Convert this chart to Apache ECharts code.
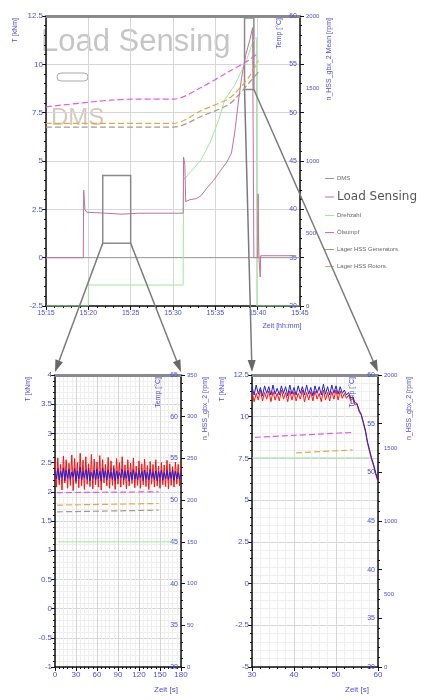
<!DOCTYPE html>
<html>
<head>
<meta charset="utf-8">
<script src="https://cdn.jsdelivr.net/npm/echarts@6/dist/echarts.min.js"></script>
<style>
  html, body { margin: 0; padding: 0; background: #fff; }
  #chart { width: 422px; height: 700px; }
</style>
</head>
<body>
<div id="chart"></div>
<script>
// top overview, x in minutes after 15:00
const dmsTop = [[15, 0], [45, 0]]
const loadTop = [[15, 0], [19.4, 0], [19.45, 3.5], [19.6, 2.5], [19.8, 2.35], [22, 2.3], [24, 2.25], [26, 2.3],
  [31.2, 2.3], [31.25, 5.2], [31.4, 4.8], [31.5, 2.9], [32, 3.0], [32.7, 3.05], [33.3, 3.2], [34, 3.6],
  [34.8, 4.0], [35.6, 4.5], [36.3, 4.9], [36.9, 5.4], [37.3, 6.5], [37.7, 8.0], [38.1, 9.3], [38.6, 10.5],
  [39.1, 11.3], [39.4, 11.9], [39.55, 0], [40.0, 0], [40.05, 3.3], [40.1, 1.2], [40.15, 0], [40.3, -1.0],
  [40.35, 0.1], [44.3, 0.1]]
const drehzahlTop = [[15, 0], [20, 0], [20.02, 145], [31.2, 145], [31.25, 870], [32.3, 940], [33.3, 1007],
  [34.4, 1130], [35.4, 1283], [36.1, 1421], [37.3, 1525], [38.7, 1697], [39.5, 1835], [39.85, 1850], [39.9, 0], [45, 0]]
const oelTop = [[15, 50.6], [22.6, 51.3], [25.4, 51.4], [30.1, 51.4], [33.3, 52.6], [36.5, 54.2], [38.9, 55.4], [40.1, 56.2]]
const rotTop = [[15, 48.9], [30.1, 48.9], [33.3, 50.2], [36.5, 51.4], [37.3, 52.0], [38.9, 53.6], [40.1, 55.4]]
const genTop = [[15, 48.5], [30.1, 48.5], [33.3, 49.6], [36.5, 50.8], [37.3, 51.4], [38.9, 53.0], [40.1, 54.2]]

// zoom boxes in the overview [t0, t1, T0, T1]
const boxLeft = [21.7, 25.0, 0.75, 4.25]
const boxRight = [38.45, 39.55, 8.7, 12.4]

// lower left detail, samples every 2 s from 0 s
const llStart = 0
const llStep = 2
const redLL = [2.52, 2.08, 2.58, 2.12, 2.47, 2.03, 2.61, 2.15, 2.55, 2.06, 2.49, 2.11, 2.63, 2.02, 2.57, 2.14,
  2.5, 2.07, 2.66, 2.1, 2.54, 2.04, 2.6, 2.13, 2.48, 2.09, 2.64, 2.05, 2.56, 2.12, 2.51, 2.08, 2.62, 2.03,
  2.55, 2.15, 2.47, 2.1, 2.59, 2.06, 2.53, 2.11, 2.45, 2.04, 2.57, 2.13, 2.5, 2.08, 2.6, 2.12, 2.46, 2.05,
  2.55, 2.1, 2.49, 2.14, 2.58, 2.07, 2.44, 2.11, 2.53, 2.06, 2.48, 2.12, 2.56, 2.09, 2.45, 2.04, 2.52, 2.13,
  2.47, 2.08, 2.55, 2.1, 2.44, 2.06, 2.5, 2.12, 2.46, 2.09, 2.54, 2.05, 2.48, 2.11, 2.43, 2.08, 2.51, 2.13,
  2.47, 2.1, 2.52]
const blueLL = [2.36, 2.22, 2.4, 2.2, 2.35, 2.24, 2.41, 2.19, 2.37, 2.23, 2.39, 2.21, 2.34, 2.25, 2.4, 2.18,
  2.36, 2.22, 2.42, 2.2, 2.35, 2.24, 2.38, 2.21, 2.4, 2.19, 2.33, 2.23, 2.37, 2.2, 2.39, 2.22, 2.35, 2.18,
  2.41, 2.24, 2.36, 2.2, 2.38, 2.23, 2.34, 2.21, 2.4, 2.19, 2.36, 2.22, 2.33, 2.24, 2.39, 2.2, 2.35, 2.23,
  2.37, 2.18, 2.34, 2.21, 2.38, 2.22, 2.33, 2.2, 2.36, 2.24, 2.35, 2.19, 2.37, 2.22, 2.34, 2.2, 2.38, 2.23,
  2.33, 2.21, 2.36, 2.19, 2.35, 2.24, 2.37, 2.2, 2.33, 2.22, 2.36, 2.21, 2.34, 2.23, 2.38, 2.2, 2.35, 2.22,
  2.33, 2.21, 2.36]
const oelLL = [[3, 50.9], [148, 51.0]]
const rotLL = [[3, 49.4], [148, 49.6]]
const genLL = [[3, 48.6], [148, 48.8]]
const drehzahlLL = [[4, 150], [170, 150]]

// lower right detail, samples every 0.5 s from 30 s
const lrStart = 30
const lrStep = 0.5
const redLR = [11.5, 10.9, 11.4, 11.0, 11.6, 10.95, 11.45, 11.05, 11.55, 10.9, 11.5, 11.0, 11.4, 10.95, 11.6,
  11.05, 11.45, 10.9, 11.55, 11.0, 11.5, 10.95, 11.4, 11.05, 11.6, 10.9, 11.45, 11.0, 11.5, 10.95, 11.55,
  11.05, 11.4, 10.9, 11.6, 11.0, 11.45, 10.95, 11.5, 11.05, 11.6, 11.0, 11.55, 11.1,
  11.4, 11.1, 11.3, 10.95, 11.1, 10.7, 10.75, 10.3, 10.1, 9.6, 9.1, 8.4, 7.9, 7.4, 7.0, 6.5, 6.1]
const blueLR = [11.8, 11.3, 11.9, 11.35, 11.75, 11.25, 11.85, 11.4, 11.8, 11.3, 11.9, 11.35, 11.7, 11.3, 11.85,
  11.4, 11.8, 11.25, 11.9, 11.35, 11.75, 11.3, 11.85, 11.4, 11.8, 11.3, 11.9, 11.35, 11.75, 11.25, 11.85,
  11.4, 11.8, 11.3, 11.95, 11.35, 11.8, 11.3, 11.9, 11.4, 11.85, 11.35, 11.8, 11.4,
  11.6, 11.3, 11.45, 11.1, 11.2, 10.85, 10.8, 10.4, 10.15, 9.7, 9.2, 8.5, 8.0, 7.5, 7.1, 6.6, 6.2]
const oelLR = [[30.7, 53.6], [54, 54.1]]
const rotLR = [[40.5, 52.0], [54, 52.3]]
const drehzahlLR = [[30, 1432], [58, 1432]]

const legendNames = ['DMS', 'Load Sensing', 'Drehzahl', 'Ölsumpf', 'Lager HSS Generators.', 'Lager HSS Rotors.']

const BLUE = '#4d4dde'
const FONT = 'Liberation Sans'
const C = {
  dms: '#9a9a9a', load: '#c0709a', dreh: '#9ee89e', oel: '#e45ce4', gen: '#a89a80', rot: '#e2a850',
  red: '#ff1010', blue: '#2020d0',
}

const chart = echarts.init(document.getElementById('chart'))

function sampled(values, start, step) {
  return values.map((v, i) => [start + i * step, v])
}

function xAxisPair(grid, min, max, interval, fmt, fontSize, minor, minorGrid) {
  return [{
    type: 'value', gridIndex: grid, min, max, interval, position: 'bottom',
    axisLine: { onZero: false, lineStyle: { color: '#111', width: 1.5 } },
    axisTick: { length: 4, lineStyle: { color: '#111' } },
    minorTick: { show: true, splitNumber: minor, length: 2, lineStyle: { color: '#111' } },
    axisLabel: { color: BLUE, fontSize, fontFamily: FONT, margin: 4, formatter: fmt },
    splitLine: { lineStyle: { color: '#d6d6d6' } },
    minorSplitLine: { show: minorGrid, lineStyle: { color: '#efefef' } },
  }, {
    type: 'value', gridIndex: grid, min, max, position: 'top',
    axisLine: { onZero: false, lineStyle: { color: '#8a8a8a', width: 3 } },
    axisTick: { show: false }, axisLabel: { show: false }, splitLine: { show: false },
  }]
}

function yAxisSet(grid, t, temp, rpm, minorGrid) {
  return [{
    type: 'value', gridIndex: grid, min: t[0], max: t[1], interval: t[2], position: 'left',
    axisLine: { show: true, onZero: false, lineStyle: { color: '#111', width: 1.5 } },
    axisTick: { length: 4, lineStyle: { color: '#111' } },
    minorTick: { show: true, splitNumber: 5, length: 2, lineStyle: { color: '#111' } },
    axisLabel: { color: BLUE, fontSize: 8, fontFamily: FONT, margin: 3 },
    splitLine: { lineStyle: { color: '#d6d6d6' } },
    minorSplitLine: { show: minorGrid, lineStyle: { color: '#efefef' } },
  }, {
    type: 'value', gridIndex: grid, min: temp[0], max: temp[1], interval: temp[2], position: 'right',
    axisLine: { show: true, onZero: false, lineStyle: { color: '#111', width: 1.5 } },
    axisTick: { length: 4, lineStyle: { color: '#111' } },
    minorTick: { show: true, splitNumber: 5, length: 2, lineStyle: { color: '#111' } },
    axisLabel: { inside: true, color: BLUE, fontSize: 7, fontFamily: FONT, margin: 3 },
    splitLine: { show: false },
  }, {
    type: 'value', gridIndex: grid, min: rpm[0], max: rpm[1], interval: rpm[2], position: 'right',
    axisLine: { show: false }, axisTick: { show: false },
    axisLabel: { color: BLUE, fontSize: 6, fontFamily: FONT, margin: 6, formatter: (v) => String(v) },
    splitLine: { show: false },
  }]
}

function line(name, data, color, xi, yi, extra) {
  return Object.assign({
    type: 'line', name, data, xAxisIndex: xi, yAxisIndex: yi, showSymbol: false, symbol: 'none',
    silent: true, animation: false, lineStyle: { color, width: 1 }, itemStyle: { color },
  }, extra || {})
}

const dashed = (color) => ({ lineStyle: { color, width: 1.2, type: [6, 3] }, smooth: 0.3 })

const minuteFmt = (v) => '15:' + String(v).padStart(2, '0')

const option = {
  animation: false,
  grid: [
    { left: 46, top: 16, width: 254, height: 290 },
    { left: 55, top: 375, width: 126, height: 292 },
    { left: 252, top: 375, width: 126, height: 292 },
  ],
  legend: {
    orient: 'vertical', left: 320, top: 169, itemGap: 8, itemWidth: 9, itemHeight: 1, icon: 'rect',
    selectedMode: false,
    textStyle: { fontSize: 6, lineHeight: 9, color: '#666', fontFamily: FONT, padding: [0, 0, 0, -2] },
    data: legendNames.map((name) => name === 'Load Sensing'
      ? { name, textStyle: { fontSize: 12, lineHeight: 12, color: '#555', fontFamily: 'DejaVu Sans' } }
      : { name }),
  },
  xAxis: [
    ...xAxisPair(0, 15, 45, 5, minuteFmt, 7, 5, false),
    ...xAxisPair(1, 0, 180, 30, null, 8, 5, true),
    ...xAxisPair(2, 30, 60, 10, null, 8, 5, true),
  ],
  yAxis: [
    ...yAxisSet(0, [-2.5, 12.5, 2.5], [30, 60, 5], [0, 2000, 500], false),
    ...yAxisSet(1, [-1, 4, 0.5], [30, 65, 5], [0, 350, 50], true),
    ...yAxisSet(2, [-5, 12.5, 2.5], [30, 60, 5], [0, 2000, 500], true),
  ],
  series: [
    line('DMS', dmsTop, C.dms, 0, 0, {
      markArea: {
        silent: true,
        itemStyle: { color: 'rgba(0,0,0,0)', borderColor: '#8a8a8a', borderWidth: 1.5 },
        data: [boxLeft, boxRight].map((b) => [{ coord: [b[0], b[2]] }, { coord: [b[1], b[3]] }]),
      },
    }),
    line('Drehzahl', drehzahlTop, C.dreh, 0, 2),
    line('Lager HSS Generators.', genTop, C.gen, 0, 1, dashed(C.gen)),
    line('Lager HSS Rotors.', rotTop, C.rot, 0, 1, dashed(C.rot)),
    line('Ölsumpf', oelTop, C.oel, 0, 1, dashed(C.oel)),
    line('Load Sensing', loadTop, C.load, 0, 0),

    line('Drehzahl', drehzahlLL, C.dreh, 2, 5),
    line('Lager HSS Generators.', genLL, C.gen, 2, 4, dashed(C.gen)),
    line('Lager HSS Rotors.', rotLL, C.rot, 2, 4, dashed(C.rot)),
    line('Ölsumpf', oelLL, C.oel, 2, 4, dashed(C.oel)),
    line('LS Detail', sampled(redLL, llStart, llStep), C.red, 2, 3),
    line('n Detail', sampled(blueLL, llStart, llStep), C.blue, 2, 3),

    line('Drehzahl', drehzahlLR, C.dreh, 4, 8),
    line('Lager HSS Rotors.', rotLR, C.rot, 4, 7, dashed(C.rot)),
    line('Ölsumpf', oelLR, C.oel, 4, 7, dashed(C.oel)),
    line('LS Detail', sampled(redLR, lrStart, lrStep), C.red, 4, 6),
    line('n Detail', sampled(blueLR, lrStart, lrStep), C.blue, 4, 6),
  ],
}

chart.setOption(option)

function vText(text, x, y, size) {
  return {
    type: 'text', x, y, rotation: Math.PI / 2, silent: true,
    style: { text, fill: BLUE, font: `${size}px ${FONT}`, align: 'right', verticalAlign: 'middle' },
  }
}

function hText(text, x, y, size) {
  return {
    type: 'text', x, y, silent: true,
    style: { text, fill: BLUE, font: `${size}px ${FONT}`, align: 'center', verticalAlign: 'middle' },
  }
}

function arrow(from, to) {
  const dx = to[0] - from[0]
  const dy = to[1] - from[1]
  const len = Math.sqrt(dx * dx + dy * dy)
  const ux = dx / len
  const uy = dy / len
  const head = 12
  const half = 4
  const bx = to[0] - ux * head
  const by = to[1] - uy * head
  return [{
    type: 'line', z: 100, silent: true,
    shape: { x1: from[0], y1: from[1], x2: bx, y2: by },
    style: { stroke: '#7a7a7a', lineWidth: 1.5 },
  }, {
    type: 'polygon', z: 100, silent: true,
    shape: { points: [to, [bx - uy * half, by + ux * half], [bx + uy * half, by - ux * half]] },
    style: { fill: '#686868' },
  }]
}

const px = (xi, yi, p) => chart.convertToPixel({ xAxisIndex: xi, yAxisIndex: yi }, p)
const up = (p) => [p[0], p[1] - 3]

const arrows = [
  ...arrow(px(0, 0, [boxLeft[0], boxLeft[2]]), up(px(2, 3, [0, 4]))),
  ...arrow(px(0, 0, [boxLeft[1], boxLeft[2]]), up(px(2, 3, [180, 4]))),
  ...arrow(px(0, 0, [boxRight[0], boxRight[2]]), up(px(4, 6, [30, 12.5]))),
  ...arrow(px(0, 0, [boxRight[1], boxRight[2]]), up(px(4, 6, [60, 12.5]))),
]

chart.setOption({
  graphic: [
    {
      type: 'text', x: 41, y: 42, silent: true, z: -1,
      style: { text: 'Load Sensing', fill: 'rgba(150,150,150,0.55)', font: `31px ${FONT}`, verticalAlign: 'middle' },
    },
    {
      type: 'text', x: 51, y: 118, silent: true, z: -1,
      style: { text: 'DMS', fill: 'rgba(185,165,145,0.6)', font: `24px ${FONT}`, verticalAlign: 'middle' },
    },
    {
      type: 'rect', silent: true, z: -1,
      shape: { x: 57, y: 73, width: 31, height: 8, r: 4 },
      style: { fill: 'none', stroke: '#aaa', lineWidth: 1 },
    },
    vText('T [kNm]', 15, 18, 7),
    vText('Temp [°C]', 279, 18, 7),
    vText('n_HSS_gbx_2 Mean [rpm]', 329, 18, 7),
    hText('Zeit [hh:mm]', 282, 326, 7),
    vText('T [kNm]', 28, 377, 7),
    vText('Temp [°C]', 158, 377, 7),
    vText('n_HSS_gbx_2 [rpm]', 205, 377, 7),
    hText('Zeit [s]', 166, 690, 8),
    vText('T [kNm]', 222, 377, 7),
    vText('Temp [°C]', 352, 377, 7),
    vText('n_HSS_gbx_2 [rpm]', 409, 377, 7),
    hText('Zeit [s]', 357, 690, 8),
    ...arrows,
  ],
})
</script>
</body>
</html>
